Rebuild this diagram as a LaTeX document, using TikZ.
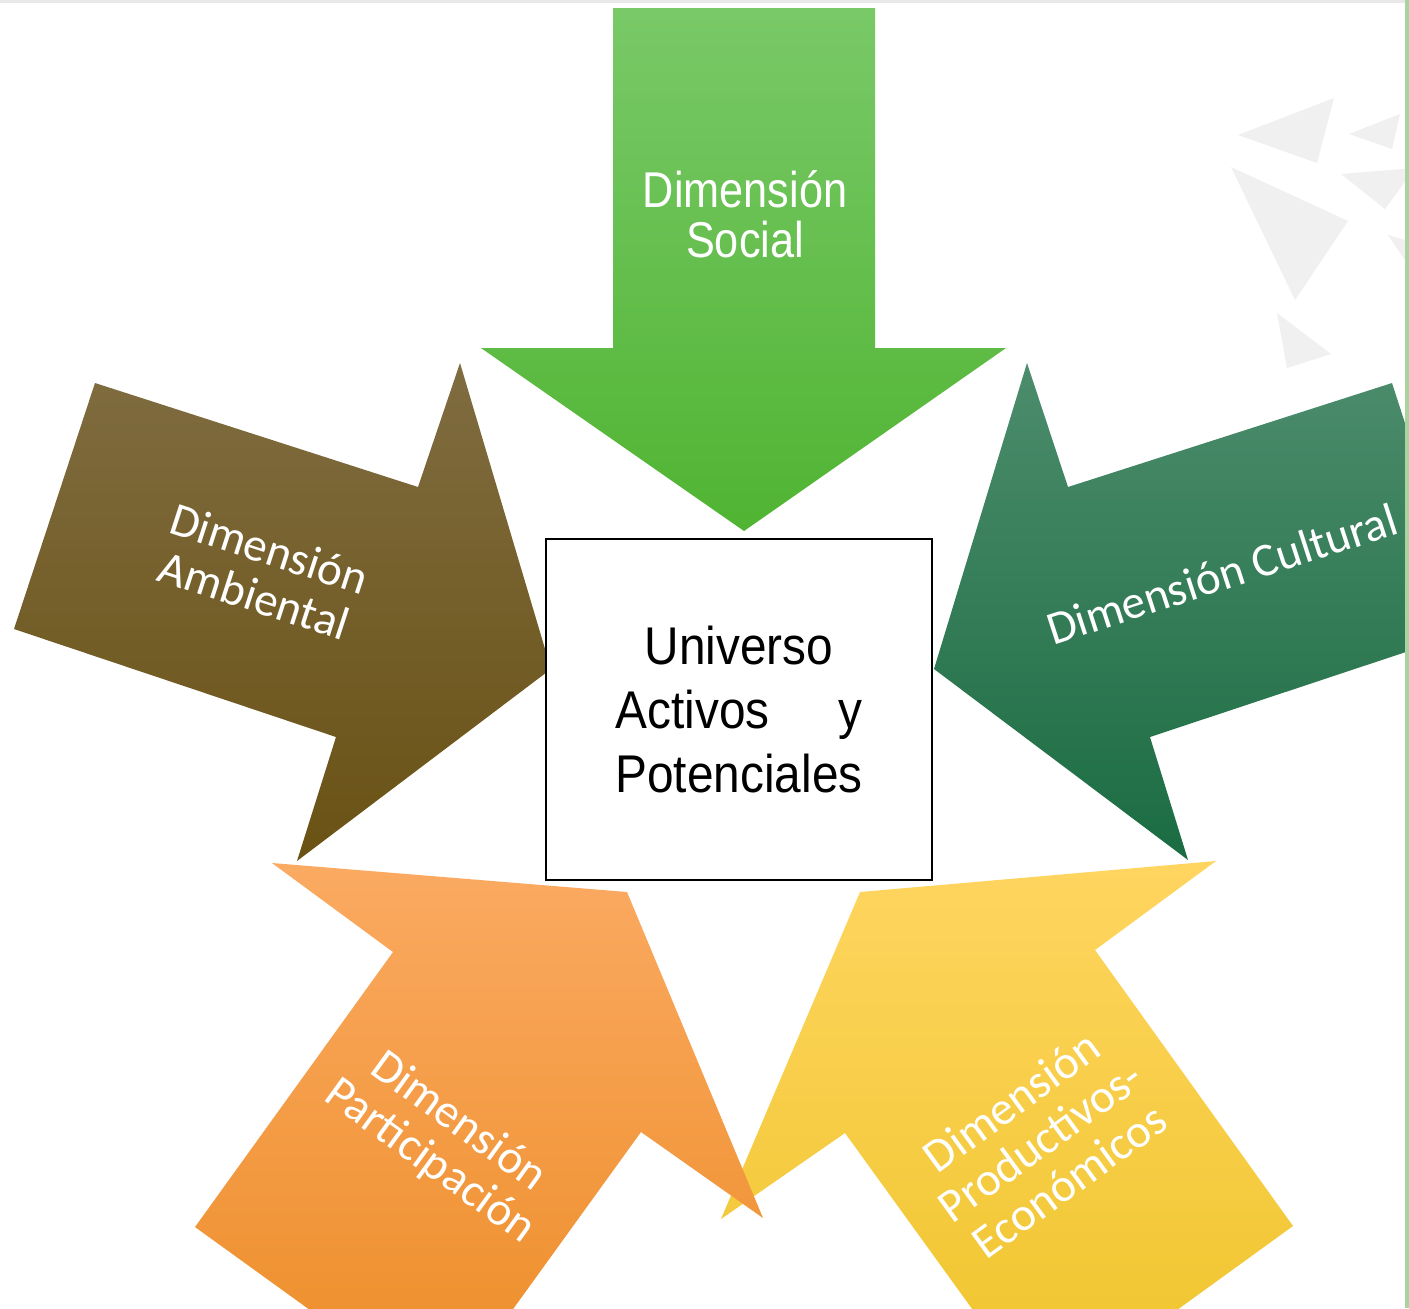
\documentclass[tikz,border=0pt]{standalone}
\usepackage{fontspec}
\usepackage{calc}
\setmainfont{Carlito}
\newfontfamily\boxfont[FakeStretch=0.9]{Liberation Sans}
\newfontfamily\socialfont[FakeStretch=0.86]{Liberation Sans}

\definecolor{socialtop}{RGB}{121,201,104}
\definecolor{socialbot}{RGB}{80,180,50}
\definecolor{ambtop}{RGB}{127,108,64}
\definecolor{ambbot}{RGB}{106,82,20}
\definecolor{culttop}{RGB}{76,140,108}
\definecolor{cultbot}{RGB}{27,108,66}
\definecolor{partop}{RGB}{251,170,98}
\definecolor{parbot}{RGB}{236,140,38}
\definecolor{prodtop}{RGB}{255,213,96}
\definecolor{prodbot}{RGB}{238,196,42}
\definecolor{trigray}{RGB}{240,240,240}
\definecolor{linegray}{RGB}{232,232,232}
\definecolor{stripgreen}{RGB}{171,211,160}

\tikzset{
	every picture/.append style={x=0.01cm,y=-0.01cm},
	myarrow/.style = {draw=none},
	mytri/.style = {fill=trigray, draw=none},
	mylabel/.style = {align=center, text=white, inner sep=0pt, font=\fontsize{13.4pt}{13.9pt}\selectfont},
	mybox/.style = {rectangle, draw=black, line width=0.6pt, fill=white, align=center,
		minimum width=3.86cm, minimum height=3.41cm, font=\boxfont\fontsize{15.1pt}{18.1pt}\selectfont}
}

\begin{document}
\begin{tikzpicture}
	\useasboundingbox (0,0) rectangle (1409,1308);
	\fill[white] (0,0) rectangle (1409,1308);
	\clip (0,0) rectangle (1409,1308);
	% background triangles
	\fill[mytri] (1238,135) -- (1334,98) -- (1317,163) -- cycle;
	\fill[mytri] (1349,134) -- (1400,114) -- (1392,149) -- cycle;
	\fill[mytri] (1341,174) -- (1415,168) -- (1385,209) -- cycle;
	\fill[mytri] (1231,167) -- (1348,221) -- (1295,300) -- cycle;
	\fill[mytri] (1277,313) -- (1331,354) -- (1287,368) -- cycle;
	\fill[mytri] (1388,235) -- (1415,243) -- (1415,275) -- cycle;
	% arrows
	\path[myarrow, top color=socialtop, bottom color=socialbot]
		(613,8) -- (875,8) -- (875,348) -- (1006,348) -- (744,531) -- (481,348) -- (613,348) -- cycle;
	\path[myarrow, top color=ambtop, bottom color=ambbot]
		(95,383) -- (418,487) -- (460,363) -- (551,669) -- (297,861) -- (336,737) -- (14,629) -- cycle;
	\path[myarrow, top color=culttop, bottom color=cultbot]
		(934,669) -- (1027,363) -- (1068,487) -- (1392,383) -- (1472,630) -- (1150,737) -- (1188,860) -- cycle;
	\path[myarrow, top color=prodtop, bottom color=prodbot]
		(1216,861) -- (860,892) -- (721,1219) -- (845,1133) -- (1043,1407) -- (1293,1226) -- (1095,950) -- cycle;
	\path[myarrow, top color=partop, bottom color=parbot]
		(272,863) -- (627,892) -- (763,1218) -- (641,1132) -- (443,1406) -- (195,1227) -- (393,952) -- cycle;
	% labels
	\node[mylabel, font=\socialfont\fontsize{14.3pt}{14.2pt}\selectfont] at (745,214) (social) {Dimensión\\Social};
	\node[mylabel, rotate=-18] at (262,572) (ambiental) {Dimensión\\Ambiental};
	\node[mylabel, rotate=18] at (1222,574) (cultural) {Dimensión Cultural};
	\node[mylabel, rotate=-36] at (444,1142) (participacion) {Dimensión\\Participación};
	\node[mylabel, rotate=36] at (1040,1141) (productivos) {Dimensión\\Productivos-\\Económicos};
	% center
	\node[mybox] at (739,709.5) (universo) {Universo\\\makebox[\widthof{Potenciales}][s]{Activos\hfill y}\\Potenciales};
	% frame
	\fill[linegray] (0,0) rectangle (1405,3);
	\fill[stripgreen] (1405,0) rectangle (1409,1308);
\end{tikzpicture}
\end{document}
